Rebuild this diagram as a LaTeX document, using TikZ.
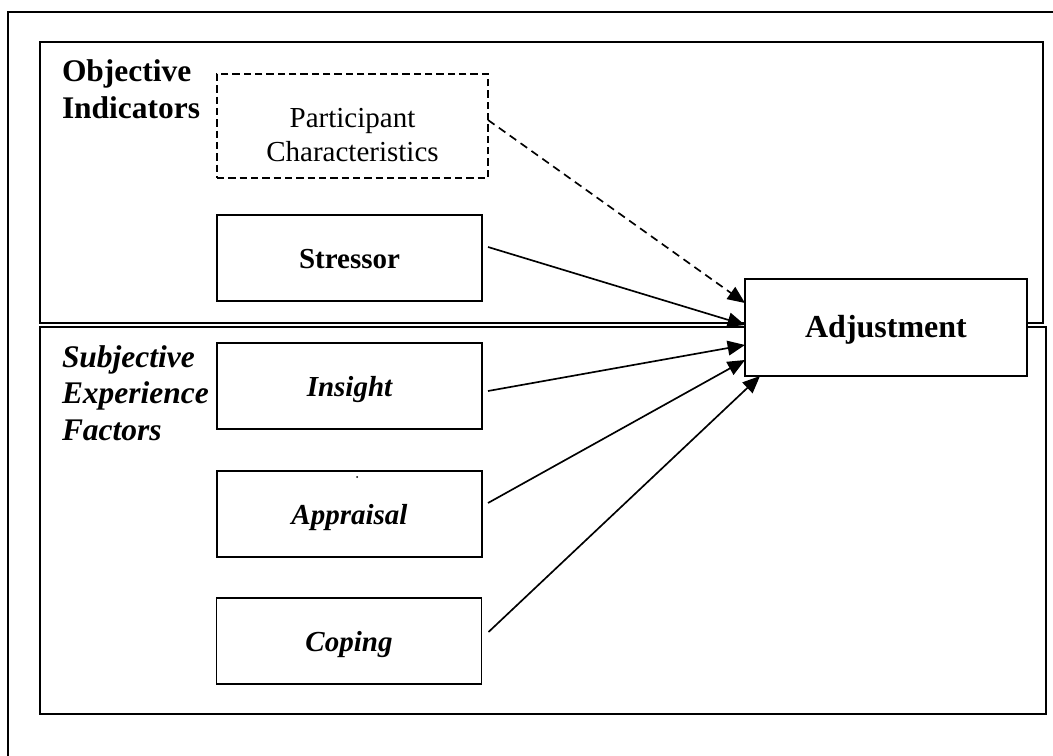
\documentclass[tikz,border=0pt]{standalone}
\usepackage{fontspec}
\setmainfont{Liberation Serif}
\usetikzlibrary{arrows.meta,calc}
\begin{document}
\begin{tikzpicture}[x=0.75pt,y=-0.75pt,
  every node/.style={inner sep=0pt, outer sep=0pt},
  frameline/.style={line width=1.4pt},
  factorbox/.style={draw, line width=1.4pt, fill=white, minimum width=198.75pt, minimum height=64.5pt,
    text height=16pt, text depth=0pt, font=\fontsize{21.75pt}{25.5pt}\selectfont\bfseries},
  dashbox/.style={draw, line width=1.3pt, dash pattern=on 5.5pt off 3pt, minimum width=203.25pt, minimum height=78pt,
    text height=3pt, text depth=0pt, font=\fontsize{21.75pt}{25.5pt}\selectfont},
  outbox/.style={draw, line width=1.4pt, fill=white, minimum width=211.5pt, minimum height=72.75pt,
    text height=14.5pt, text depth=0pt, font=\fontsize{24pt}{28pt}\selectfont\bfseries},
  grouplabel/.style={anchor=base west, font=\fontsize{23.6pt}{27.6pt}\selectfont\bfseries},
  conn/.style={line width=1.25pt, -{Triangle[length=13pt,width=11pt]}},
  dashconn/.style={conn, dash pattern=on 6pt off 4pt}
]
\useasboundingbox (0,0) rectangle (1053,756);
% outer frame (cropped)
\draw[frameline] (8,756) -- (8,12) -- (1053,12);
% group regions
\draw[frameline] (40,42) rectangle (1043,323);
\draw[frameline] (40,327) rectangle (1046,714);
% group labels
\node[grouplabel] (objlabel) at (62,82) {\begin{tabular}[t]{@{}l@{}}Objective\\Indicators\end{tabular}};
\node[grouplabel, font=\fontsize{23.6pt}{27.4pt}\selectfont\bfseries\itshape] (sublabel) at (62,367)
  {\begin{tabular}[t]{@{}l@{}}Subjective\\Experience\\Factors\end{tabular}};
% boxes
\node[dashbox] (part) at (352.5,126) {\begin{tabular}[t]{@{}c@{}}Participant\\Characteristics\end{tabular}};
\node[factorbox] (stress) at (349.5,258) {Stressor};
\node[factorbox, font=\fontsize{21.75pt}{25.5pt}\selectfont\bfseries\itshape] (insight) at (349.5,386) {Insight};
\node[factorbox, font=\fontsize{21.75pt}{25.5pt}\selectfont\bfseries\itshape] (appraisal) at (349.5,514) {Appraisal};
\node[factorbox, font=\fontsize{21.75pt}{25.5pt}\selectfont\bfseries\itshape] (coping) at (349,641) {Coping};
\fill (357,477) circle[radius=1];
\node[outbox] (adj) at (886,327.5) {Adjustment};
% connectors
\draw[dashconn] ($(part.east)+(0,-6)$) -- ($(adj.west)+(0,-24.5)$);
\draw[conn] ($(stress.east)+(6,-11)$) -- ($(adj.west)+(0,-2.5)$);
\draw[conn] ($(insight.east)+(6,5)$) -- ($(adj.west)+(0,17.5)$);
\draw[conn] ($(appraisal.east)+(6,-11)$) -- ($(adj.west)+(0,32.5)$);
\draw[conn] ($(coping.east)+(7,-9)$) -- ($(adj.south west)+(15,0)$);
\end{tikzpicture}
\end{document}
